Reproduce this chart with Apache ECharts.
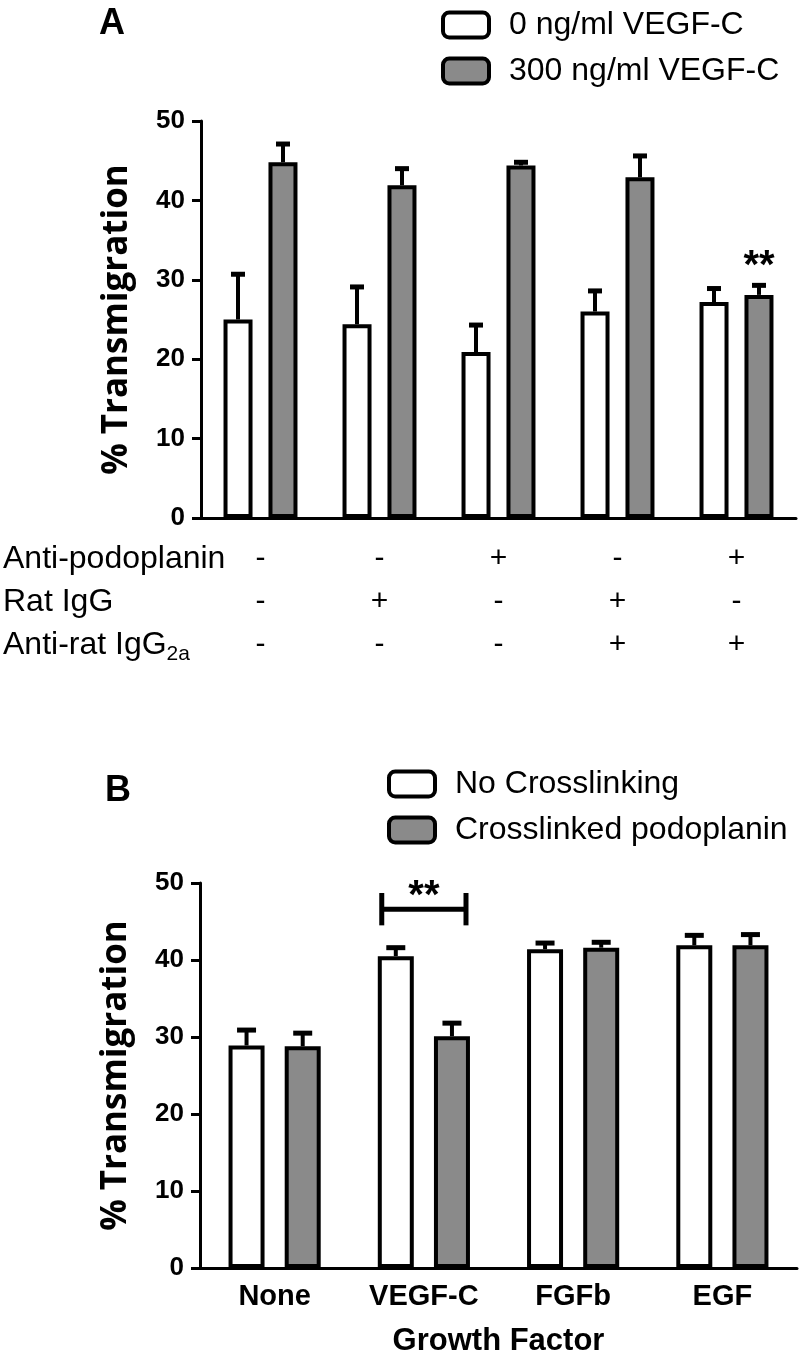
<!DOCTYPE html>
<html><head><meta charset="utf-8">
<script src="https://cdn.jsdelivr.net/npm/echarts@6/dist/echarts.min.js"></script>
<style>html,body{margin:0;padding:0;background:#fff}#c{width:800px;height:1371px}</style>
</head><body><div id="c"></div>
<script>
// ---------- Panel A data ----------
const aCategories = ['1', '2', '3', '4', '5'];
const aAntiPodoplanin = ['-', '-', '+', '-', '+'];
const aRatIgG = ['-', '+', '-', '+', '-'];
const aAntiRatIgG2a = ['-', '-', '-', '+', '+'];
const aSeriesNames = ['0 ng/ml VEGF-C', '300 ng/ml VEGF-C'];
const a0Mean = [25.0, 24.4, 20.9, 26.0, 27.2];
const a0ErrTop = [30.7, 29.1, 24.3, 28.6, 28.9];
const a300Mean = [44.8, 41.9, 44.4, 42.9, 28.1];
const a300ErrTop = [47.1, 44.0, 44.8, 45.6, 29.3];
const aSigIndex = 4;        // "**" over the 300 ng/ml bar of group 5
const aSigValue = 32.7;
const yTicks = [0, 10, 20, 30, 40, 50];

// ---------- Panel B data ----------
const bCategories = ['None', 'VEGF-C', 'FGFb', 'EGF'];
const bSeriesNames = ['No Crosslinking', 'Crosslinked podoplanin'];
const bNoMean = [28.9, 40.5, 41.4, 41.9];
const bNoErrTop = [30.9, 41.6, 42.2, 43.2];
const bXMean = [28.8, 30.1, 41.6, 41.9];
const bXErrTop = [30.5, 31.8, 42.3, 43.3];
const bSigIndex = 1;
const bBracketValue = 46.6, bBracketLow = 44.5, bBracketHigh = 48.7, bStarValue = 49.4;

// ---------- styles ----------
const NUM_FONT = 'Liberation Sans, Arial, sans-serif';
const TITLE_FONT = 'Open Sans, sans-serif';
const GRAY = '#8a8a8a';
const A_BW = 29, A_GAP = 0.55, A_OFF = A_BW * (1 + A_GAP) / 2;
const B_BW = 36, B_GAP = 0.56, B_OFF = B_BW * (1 + B_GAP) / 2;
const STAR_DY = 9; // asterisk glyph sits high in its em box

const chart = echarts.init(document.getElementById('c'), null, {renderer: 'canvas'});

function errRender(offset, cap) {
  return function (params, api) {
    const c = api.coord([api.value(0), api.value(1)]);
    const t = api.coord([api.value(0), api.value(2)]);
    const x = c[0] + offset;
    return {type: 'group', children: [
      {type: 'line', shape: {x1: x, y1: c[1], x2: x, y2: t[1]}, style: {stroke: '#000', lineWidth: 4}},
      {type: 'line', shape: {x1: x - cap, y1: t[1], x2: x + cap, y2: t[1]}, style: {stroke: '#000', lineWidth: 5}}
    ]};
  };
}
function errData(means, tops) { return means.map((m, i) => [i, m, tops[i]]); }

function yAxis(gi) {
  return {
    gridIndex: gi, type: 'value', min: yTicks[0], max: yTicks[yTicks.length - 1],
    interval: yTicks[1] - yTicks[0],
    axisLine: {show: true, lineStyle: {color: '#000', width: 3}},
    axisTick: {show: true, length: 9, lineStyle: {color: '#000', width: 3}},
    splitLine: {show: false},
    axisLabel: {fontFamily: NUM_FONT, fontWeight: 'bold', fontSize: 26, color: '#000', margin: 16},
    name: '% Transmigration', nameLocation: 'middle', nameGap: 66,
    nameTextStyle: {fontFamily: TITLE_FONT, fontWeight: 'bold', fontSize: 35, color: '#000'}
  };
}

function legend(names, left, top) {
  return {
    data: names, orient: 'vertical', left: left, top: top, itemWidth: 46, itemHeight: 25,
    itemGap: 14, icon: 'roundRect', selectedMode: false,
    itemStyle: {borderColor: '#000', borderWidth: 4},
    textStyle: {fontFamily: NUM_FONT, fontSize: 32, color: '#000', lineHeight: 32, padding: [0, 0, 0, 15]}
  };
}

const rowFont = '32px ' + NUM_FONT;
const option = {
  animation: false,
  backgroundColor: '#fff',
  grid: [
    {left: 201, top: 121, width: 595, height: 397, containLabel: false, outerBoundsMode: 'none'},
    {left: 200, top: 883, width: 597, height: 385, containLabel: false, outerBoundsMode: 'none'}
  ],
  legend: [legend(aSeriesNames, 436, 4), legend(bSeriesNames, 382, 763)],
  xAxis: [
    {
      gridIndex: 0, type: 'category', data: aCategories,
      axisLine: {lineStyle: {color: '#000', width: 3}},
      axisTick: {alignWithLabel: true, length: 9, lineStyle: {color: '#000', width: 3}},
      axisLabel: {
        interval: 0, margin: 19, fontFamily: NUM_FONT, fontSize: 30, lineHeight: 43, color: '#000',
        formatter: (v, i) => [aAntiPodoplanin[i], aRatIgG[i], aAntiRatIgG2a[i]].join('\n')
      }
    },
    {
      gridIndex: 1, type: 'category', data: bCategories,
      axisLine: {lineStyle: {color: '#000', width: 3}},
      axisTick: {alignWithLabel: true, length: 9, lineStyle: {color: '#000', width: 3}},
      axisLabel: {interval: 0, margin: 14, fontFamily: NUM_FONT, fontWeight: 'bold', fontSize: 29, color: '#000'},
      name: 'Growth Factor', nameLocation: 'middle', nameGap: 58,
      nameTextStyle: {fontFamily: NUM_FONT, fontWeight: 'bold', fontSize: 31, color: '#000'}
    }
  ],
  yAxis: [yAxis(0), yAxis(1)],
  graphic: [
    {type: 'text', left: 99, top: 6, style: {text: 'A', font: 'bold 36px ' + NUM_FONT, fill: '#000'}},
    {type: 'text', left: 105, top: 773, style: {text: 'B', font: 'bold 36px ' + NUM_FONT, fill: '#000'}},
    {type: 'text', x: 3, y: 559, style: {text: 'Anti-podoplanin', font: rowFont, fill: '#000', verticalAlign: 'middle'}},
    {type: 'text', x: 3, y: 602, style: {text: 'Rat IgG', font: rowFont, fill: '#000', verticalAlign: 'middle'}},
    {type: 'text', x: 3, y: 645, style: {
      text: '{m|Anti-rat IgG}{s|2a}', fill: '#000', verticalAlign: 'middle',
      rich: {m: {font: rowFont, lineHeight: 40, verticalAlign: 'middle'},
             s: {font: '21px ' + NUM_FONT, lineHeight: 40, verticalAlign: 'bottom'}}
    }}
  ],
  series: [
    {name: aSeriesNames[0], type: 'bar', xAxisIndex: 0, yAxisIndex: 0, data: a0Mean,
     barWidth: A_BW, barGap: (A_GAP * 100) + '%', z: 3,
     itemStyle: {color: '#fff', borderColor: '#000', borderWidth: 4}},
    {name: aSeriesNames[1], type: 'bar', xAxisIndex: 0, yAxisIndex: 0, data: a300Mean,
     barWidth: A_BW, barGap: (A_GAP * 100) + '%', z: 3,
     itemStyle: {color: GRAY, borderColor: '#000', borderWidth: 4}},
    {type: 'custom', xAxisIndex: 0, yAxisIndex: 0, z: 2, renderItem: errRender(-A_OFF, 7), data: errData(a0Mean, a0ErrTop)},
    {type: 'custom', xAxisIndex: 0, yAxisIndex: 0, z: 2, renderItem: errRender(A_OFF, 7), data: errData(a300Mean, a300ErrTop)},
    {type: 'custom', xAxisIndex: 0, yAxisIndex: 0, z: 4, data: [[aSigIndex, aSigValue]],
     renderItem: function (p, api) {
       const c = api.coord([api.value(0), api.value(1)]);
       return {type: 'text', x: c[0] + A_OFF, y: c[1] + STAR_DY, style: {text: '**', font: 'bold 40px ' + NUM_FONT, fill: '#000', align: 'center', verticalAlign: 'middle'}};
     }},

    {name: bSeriesNames[0], type: 'bar', xAxisIndex: 1, yAxisIndex: 1, data: bNoMean,
     barWidth: B_BW, barGap: (B_GAP * 100) + '%', z: 3,
     itemStyle: {color: '#fff', borderColor: '#000', borderWidth: 4}},
    {name: bSeriesNames[1], type: 'bar', xAxisIndex: 1, yAxisIndex: 1, data: bXMean,
     barWidth: B_BW, barGap: (B_GAP * 100) + '%', z: 3,
     itemStyle: {color: GRAY, borderColor: '#000', borderWidth: 4}},
    {type: 'custom', xAxisIndex: 1, yAxisIndex: 1, z: 2, renderItem: errRender(-B_OFF, 9.5), data: errData(bNoMean, bNoErrTop)},
    {type: 'custom', xAxisIndex: 1, yAxisIndex: 1, z: 2, renderItem: errRender(B_OFF, 9.5), data: errData(bXMean, bXErrTop)},
    {type: 'custom', xAxisIndex: 1, yAxisIndex: 1, z: 4,
     data: [[bSigIndex, bBracketValue, bBracketLow, bBracketHigh, bStarValue]],
     renderItem: function (p, api) {
       const m = api.coord([api.value(0), api.value(1)]);
       const lo = api.coord([api.value(0), api.value(2)]);
       const hi = api.coord([api.value(0), api.value(3)]);
       const st = api.coord([api.value(0), api.value(4)]);
       const hw = B_OFF * 1.5;
       return {type: 'group', children: [
         {type: 'line', shape: {x1: m[0] - hw, y1: m[1], x2: m[0] + hw, y2: m[1]}, style: {stroke: '#000', lineWidth: 5}},
         {type: 'line', shape: {x1: m[0] - hw, y1: lo[1], x2: m[0] - hw, y2: hi[1]}, style: {stroke: '#000', lineWidth: 5}},
         {type: 'line', shape: {x1: m[0] + hw, y1: lo[1], x2: m[0] + hw, y2: hi[1]}, style: {stroke: '#000', lineWidth: 5}},
         {type: 'text', x: m[0], y: st[1] + STAR_DY, style: {text: '**', font: 'bold 40px ' + NUM_FONT, fill: '#000', align: 'center', verticalAlign: 'middle'}}
       ]};
     }}
  ]
};
chart.setOption(option);
</script>
</body></html>
